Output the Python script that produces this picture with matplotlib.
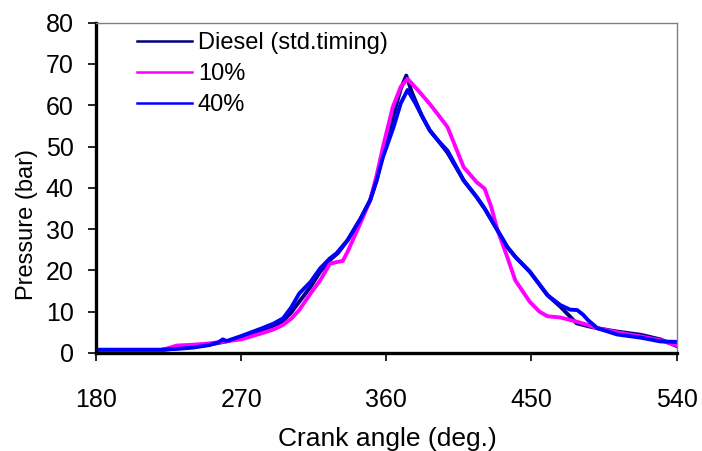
import matplotlib
matplotlib.use("Agg")
import matplotlib.pyplot as plt

# Crank angle (deg) and pressure (bar)
angle_diesel = [180, 200, 220, 230, 240, 250, 258, 262, 270, 283, 290, 296, 301, 306, 313, 319, 325, 330, 336, 344, 350, 354, 358, 364, 369, 372.4, 376, 382, 387, 392, 398, 408, 416, 421, 429, 435, 440, 449, 460, 468, 474, 478, 485, 491, 503, 518, 530, 540]
p_diesel = [0.7, 0.7, 0.7, 1.1, 1.5, 2.0, 2.6, 2.9, 3.9, 5.5, 6.5, 7.8, 9.8, 12.4, 16.0, 19.7, 22.5, 24.2, 27.3, 32.5, 37.0, 41.8, 48.3, 57.0, 64.0, 67.2, 63.0, 57.5, 53.9, 51.5, 48.5, 41.8, 37.8, 35.0, 29.7, 25.7, 23.3, 19.7, 14.0, 11.2, 8.8, 7.2, 6.5, 6.0, 5.2, 4.4, 3.3, 1.7]

angle_10 = [180, 200, 220, 225, 230, 240, 250, 258, 270, 283, 290, 296, 301, 306, 313, 319, 325, 329, 333, 336, 344, 350, 354, 358, 364, 369, 373.2, 380, 387, 392, 398, 408, 416, 421, 425, 429, 435, 440, 449, 455, 460, 468, 478, 485, 491, 503, 518, 530, 540]
p_10 = [0.7, 0.7, 0.7, 1.2, 1.8, 2.0, 2.3, 2.7, 3.3, 4.8, 5.7, 6.8, 8.3, 10.4, 14.4, 17.6, 21.6, 22.0, 22.3, 24.5, 31.5, 37.0, 43.0, 50.0, 59.5, 64.5, 66.4, 63.5, 60.3, 57.8, 54.7, 45.0, 41.4, 39.8, 35.5, 29.7, 23.3, 17.6, 12.4, 10.0, 8.9, 8.6, 7.6, 6.8, 6.0, 5.0, 4.0, 3.1, 1.9]

angle_40 = [180, 200, 220, 230, 240, 250, 256, 258.6, 261, 270, 283, 290, 296, 301, 306, 313, 319, 325, 329, 336, 344, 350, 354, 358, 364.5, 369, 373.2, 378, 382, 387, 392, 398, 408, 416, 421, 429, 435, 440, 449, 460, 468, 474, 478.4, 482, 485, 491, 503, 518, 530, 540]
p_40 = [0.8, 0.8, 0.8, 1.0, 1.3, 1.9, 2.6, 3.3, 2.9, 4.1, 6.0, 7.1, 8.4, 11.0, 14.4, 17.2, 20.5, 22.9, 24.1, 27.3, 32.5, 37.0, 41.8, 47.5, 54.7, 60.5, 63.7, 60.5, 57.5, 53.9, 51.5, 49.0, 41.8, 37.8, 35.0, 29.7, 25.7, 23.3, 19.7, 14.0, 11.6, 10.5, 10.4, 9.3, 8.0, 6.0, 4.5, 3.7, 2.8, 2.7]

series_labels = ["Diesel (std.timing)", "10%", "40%"]
x_ticks = [180, 270, 360, 450, 540]
y_ticks = [0, 10, 20, 30, 40, 50, 60, 70, 80]

plt.rcParams['font.family'] = ['Liberation Sans', 'DejaVu Sans']

fig = plt.figure(figsize=(7.02, 4.51), dpi=100)
ax = fig.add_axes([0.1368, 0.2173, 0.8269, 0.7324])

lw = 2.8
ax.plot(angle_diesel, p_diesel, color='#000080', lw=lw, label=series_labels[0], solid_joinstyle='round')
ax.plot(angle_10, p_10, color='#FF00FF', lw=lw, label=series_labels[1], solid_joinstyle='round')
ax.plot(angle_40, p_40, color='#0000FF', lw=lw, label=series_labels[2], solid_joinstyle='round')

ax.set_xlim(180, 540)
ax.set_ylim(0, 80)
ax.set_xticks(x_ticks)
ax.set_yticks(y_ticks)

for s in ['left', 'bottom']:
    ax.spines[s].set_linewidth(2.4)
    ax.spines[s].set_color('black')
for s in ['top', 'right']:
    ax.spines[s].set_linewidth(1.0)
    ax.spines[s].set_color('#808080')

ax.tick_params(axis='x', direction='out', length=6, width=1.2, pad=19, labelsize=18)
ax.tick_params(axis='y', direction='out', length=6, width=1.2, pad=10, labelsize=18)

ax.set_ylabel("Pressure (bar)", fontsize=17)
ax.yaxis.set_label_coords(-0.10, 0.39)
fig.text(0.5516, 1 - 446 / 451, "Crank angle (deg.)", fontsize=19, ha='center', va='baseline')

leg = ax.legend(loc='upper left', bbox_to_anchor=(0.0706, 0.972), frameon=False,
                fontsize=17, handlelength=2.33, handletextpad=0.25,
                labelspacing=0.38, borderpad=0, borderaxespad=0)
for h in leg.get_lines():
    h.set_linewidth(1.8)

fig.savefig("out.png", dpi=100)
